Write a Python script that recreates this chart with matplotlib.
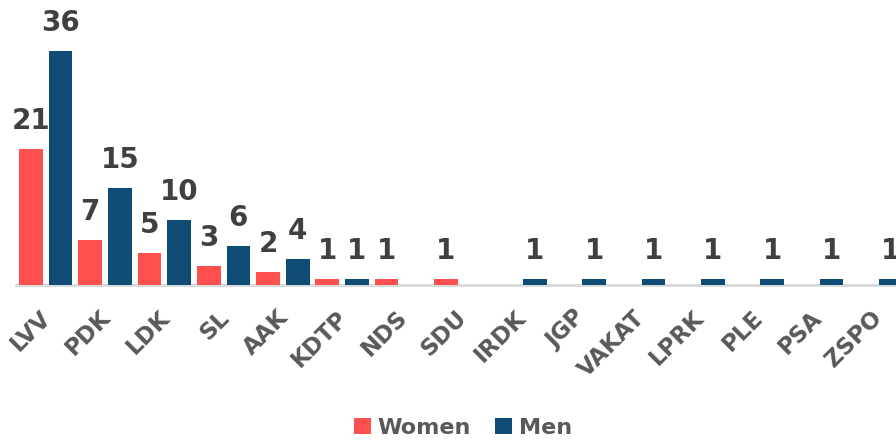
import matplotlib
matplotlib.use("Agg")
import matplotlib.pyplot as plt
import numpy as np

categories = ["LVV", "PDK", "LDK", "SL", "AAK", "KDTP", "NDS", "SDU",
              "IRDK", "JGP", "VAKAT", "LPRK", "PLE", "PSA", "ZSPO"]
women = [21, 7, 5, 3, 2, 1, 1, 1, 0, 0, 0, 0, 0, 0, 0]
men = [36, 15, 10, 6, 4, 1, 0, 0, 1, 1, 1, 1, 1, 1, 1]

RED = "#FF5050"
BLUE = "#0F4C75"
LABEL = "#404040"
TICK = "#595959"
FONT = "DejaVu Sans"

fig = plt.figure(figsize=(8.96, 4.42), dpi=100)
ax = fig.add_axes([16 / 896, 157 / 442, 1 - 16 / 896, 285 / 442])

x = np.arange(len(categories))
w = 0.4
off = 0.25
bw = ax.bar(x - off, women, w, color=RED, label="Women", zorder=3)
bm = ax.bar(x + off, men, w, color=BLUE, label="Men", zorder=3)

for bars, vals in ((bw, women), (bm, men)):
    for b, v in zip(bars, vals):
        if v > 0:
            ax.annotate(str(v), (b.get_x() + b.get_width() / 2, v),
                        xytext=(0, 10), textcoords="offset points",
                        ha="center", va="bottom", fontsize=20,
                        fontweight="bold", color=LABEL, family=FONT)

ax.set_xlim(-0.5, 14.34)
ax.set_ylim(0, 285 / 6.5)
for s in ("top", "right", "left"):
    ax.spines[s].set_visible(False)
ax.spines["bottom"].set_color("#D9D9D9")
ax.spines["bottom"].set_linewidth(2)
ax.set_yticks([])
ax.set_xticks(x - 0.1)
ax.set_xticklabels(categories, rotation=45, ha="right", va="top",
                   rotation_mode="anchor", fontsize=16.5, fontweight="bold",
                   color=TICK, family=FONT)
ax.tick_params(axis="x", length=0, pad=15)

leg = fig.legend(handles=[bw, bm], labels=["Women", "Men"], loc="center",
                 bbox_to_anchor=(463 / 896, 1 - 428 / 442), ncol=2,
                 frameon=False, handlelength=0.75, handleheight=0.75,
                 handletextpad=0.3, columnspacing=1.1,
                 prop={"family": FONT, "weight": "bold", "size": 16})
for t in leg.get_texts():
    t.set_color(TICK)

fig.savefig("out.png", dpi=100)
